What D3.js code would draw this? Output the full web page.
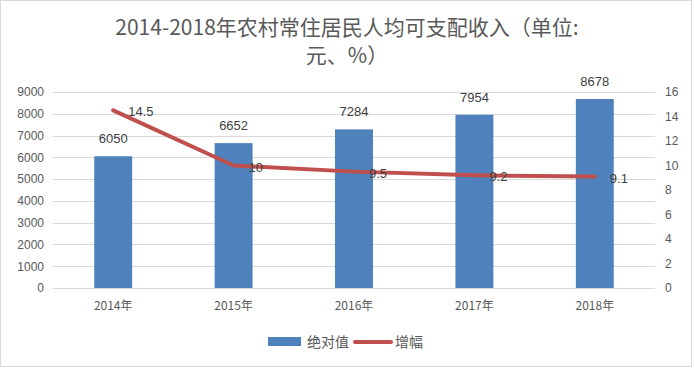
<!DOCTYPE html>
<html>
<head>
<meta charset="utf-8">
<script src="https://cdn.jsdelivr.net/npm/d3@7"></script>
<style>
  body { margin: 0; background: #fff; }
  text { font-family: "Noto Sans CJK SC", "DejaVu Sans", sans-serif; fill: #404040; }
</style>
</head>
<body>
<div id="chart"></div>
<script>
// Data
const years = ["2014年", "2015年", "2016年", "2017年", "2018年"];
const income = [6050, 6652, 7284, 7954, 8678];
const growth = [14.5, 10, 9.5, 9.2, 9.1];
const leftTicks = [0, 1000, 2000, 3000, 4000, 5000, 6000, 7000, 8000, 9000];
const rightTicks = [0, 2, 4, 6, 8, 10, 12, 14, 16];

const W = 694, H = 368;
const margin = { top: 92, right: 39, bottom: 80, left: 53 };
const width = W - margin.left - margin.right;
const height = H - margin.top - margin.bottom;

const svg = d3.select("#chart").append("svg")
    .attr("width", W)
    .attr("height", H);

// outer frame
svg.append("rect")
    .attr("x", 0.5).attr("y", 0.5)
    .attr("width", W - 3).attr("height", H - 2)
    .attr("fill", "none")
    .attr("stroke", "#d9d9d9");

// title
const title = svg.append("text")
    .attr("text-anchor", "middle")
    .style("font-size", "21px")
    .style("fill", "#595959");
title.append("tspan").attr("x", W / 2).attr("y", 35)
    .text("2014-2018年农村常住居民人均可支配收入（单位:");
title.append("tspan").attr("x", W / 2).attr("y", 63)
    .text("元、%）");

const g = svg.append("g")
    .attr("transform", `translate(${margin.left},${margin.top})`);

const x = d3.scaleBand().domain(years).range([0, width]).paddingInner(0.685).paddingOuter(0.3425);
const xc = d => x(d) + x.bandwidth() / 2;
const yL = d3.scaleLinear().domain([0, 9000]).range([height, 0]);
const yR = d3.scaleLinear().domain([0, 16]).range([height, 0]);

// gridlines
g.append("g")
    .selectAll("line")
    .data(leftTicks)
    .enter().append("line")
    .attr("x1", 0).attr("x2", width)
    .attr("y1", d => Math.round(yL(d)) + 0.5)
    .attr("y2", d => Math.round(yL(d)) + 0.5)
    .attr("stroke", "#d9d9d9");

// left axis
const leftAxis = g.append("g")
    .call(d3.axisLeft(yL).tickValues(leftTicks).tickFormat(d3.format("d")).tickSize(0).tickPadding(9));
leftAxis.select(".domain").remove();
leftAxis.selectAll("text").style("font-size", "12px").style("font-family", "'Liberation Sans', sans-serif").style("fill", "#595959");

// right axis
const rightAxis = g.append("g")
    .attr("transform", `translate(${width},0)`)
    .call(d3.axisRight(yR).tickValues(rightTicks).tickSize(0).tickPadding(10));
rightAxis.select(".domain").remove();
rightAxis.selectAll("text").style("font-size", "12px").style("font-family", "'Liberation Sans', sans-serif").style("fill", "#595959");

// x axis
const xAxis = g.append("g")
    .attr("transform", `translate(0,${height})`)
    .call(d3.axisBottom(x).tickSize(0).tickPadding(13));
xAxis.select(".domain").remove();
xAxis.selectAll("text").style("font-size", "12px").style("fill", "#595959");

// bars
g.append("g")
    .selectAll("rect")
    .data(income)
    .enter().append("rect")
    .attr("x", (d, i) => x(years[i]))
    .attr("y", d => yL(d))
    .attr("width", x.bandwidth())
    .attr("height", d => height - yL(d))
    .attr("fill", "#4f81bd");

// bar labels
g.append("g")
    .selectAll("text")
    .data(income)
    .enter().append("text")
    .attr("x", (d, i) => xc(years[i]))
    .attr("y", d => yL(d) - 13)
    .attr("text-anchor", "middle")
    .style("font-size", "13px")
    .style("font-family", "'Liberation Sans', sans-serif")
    .text(d => d);

// line
const line = d3.line()
    .x((d, i) => xc(years[i]))
    .y(d => yR(d));

g.append("path")
    .datum(growth)
    .attr("d", line)
    .attr("fill", "none")
    .attr("stroke", "#c0504d")
    .attr("stroke-width", 4)
    .attr("stroke-linejoin", "round")
    .attr("stroke-linecap", "round");

// line labels
g.append("g")
    .selectAll("text")
    .data(growth)
    .enter().append("text")
    .attr("x", (d, i) => xc(years[i]) + 15)
    .attr("y", d => yR(d) + 6)
    .style("font-size", "13px")
    .style("font-family", "'Liberation Sans', sans-serif")
    .text(d => d);

// legend
const legend = svg.append("g").attr("transform", "translate(268,342)");
legend.append("rect")
    .attr("x", 0).attr("y", -5)
    .attr("width", 33).attr("height", 9)
    .attr("fill", "#4f81bd");
legend.append("text")
    .attr("x", 39).attr("y", 5)
    .style("font-size", "14px")
    .style("fill", "#595959")
    .text("绝对值");
legend.append("line")
    .attr("x1", 87).attr("x2", 123)
    .attr("y1", 0).attr("y2", 0)
    .attr("stroke", "#c0504d")
    .attr("stroke-width", 4)
    .attr("stroke-linecap", "round");
legend.append("text")
    .attr("x", 127).attr("y", 5)
    .style("font-size", "14px")
    .style("fill", "#595959")
    .text("增幅");
</script>
</body>
</html>
